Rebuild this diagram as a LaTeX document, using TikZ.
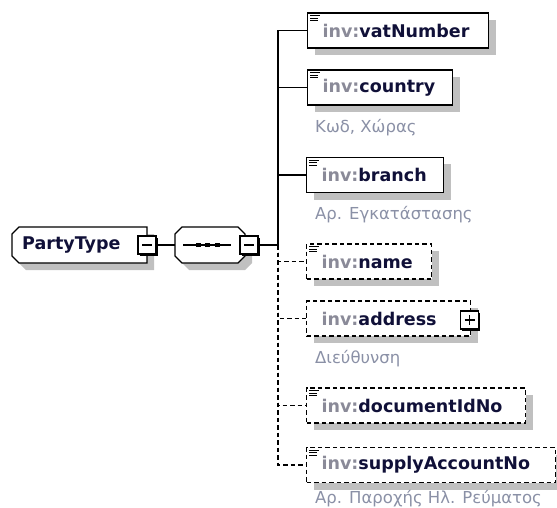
\documentclass[tikz,border=0pt]{standalone}
\usepackage{fontspec}
\setmainfont{DejaVu Sans}
\usetikzlibrary{shadows}
\definecolor{prefixgray}{RGB}{138,138,152}
\definecolor{namenavy}{RGB}{16,16,56}
\definecolor{notegray}{RGB}{138,144,166}
\definecolor{shadowgray}{RGB}{192,192,192}
\tikzset{
  link/.style={line width=1.2pt},
  optlink/.style={link, dash pattern=on 4.5pt off 3pt},
  elem/.style={draw, fill=white, line width=1.2pt, anchor=west, minimum height=35pt,
    inner xsep=15pt, inner ysep=0pt, align=left, text=namenavy,
    font=\fontsize{17.5}{18}\selectfont\bfseries,
    general shadow={fill=shadowgray, shadow xshift=7pt, shadow yshift=-7pt}},
  optelem/.style={elem, dash pattern=on 4.5pt off 3pt},
  note/.style={anchor=base west, inner sep=0pt, text=notegray, font=\fontsize{16.5}{16.5}\selectfont},
  togglebox/.style={draw, fill=white, line width=1.2pt, minimum size=18pt, inner sep=0pt,
    general shadow={fill=black, shadow xshift=1.6pt, shadow yshift=-1.6pt}},
  minusbox/.style={togglebox, path picture={
    \draw[link] ([xshift=4pt]path picture bounding box.west) -- ([xshift=-4pt]path picture bounding box.east);}},
  plusbox/.style={togglebox, path picture={
    \draw[link] ([xshift=4pt]path picture bounding box.west) -- ([xshift=-4pt]path picture bounding box.east);
    \draw[link] ([yshift=-4pt]path picture bounding box.north) -- ([yshift=4pt]path picture bounding box.south);}},
}
\newcommand{\invname}[1]{\textcolor{prefixgray}{inv:}#1}
\begin{document}
\begin{tikzpicture}[x=1pt, y=-1pt, line join=miter]
  \useasboundingbox (0,0) rectangle (557,508);
  % complex type
  \fill[shadowgray, shift={(7,7)}] (12,234)--(19,227)--(147,227)--(147,263)--(19,263)--(12,256)--cycle;
  \draw[link, fill=white] (12,234)--(19,227)--(147,227)--(147,263)--(19,263)--(12,256)--cycle;
  \node[anchor=west, inner sep=0pt, text=namenavy, font=\fontsize{17.5}{18}\selectfont\bfseries] (party) at (22,245) {PartyType};
  \node[minusbox] (partyminus) at (147,245) {};
  % sequence
  \fill[shadowgray, shift={(7,7)}] (175,234)--(182,227)--(238,227)--(245,234)--(245,256)--(238,263)--(182,263)--(175,256)--cycle;
  \draw[link, fill=white] (175,234)--(182,227)--(238,227)--(245,234)--(245,256)--(238,263)--(182,263)--(175,256)--cycle;
  \node[minimum width=70pt, minimum height=36pt, inner sep=0pt] (seq) at (210,245) {};
  \draw[link] (183,245) -- (231,245);
  \foreach \x in {198,207.5,217} \fill (\x-2.5,243) rectangle (\x+2.5,247);
  \node[minusbox] (seqminus) at (249,245) {};
  \coordinate (bus) at (278,245);
  \draw[link] (partyminus) -- (seq);
  \draw[link] (seqminus) -- (bus);
  % child elements
  \node[elem, text width=151pt] (vat) at (307,30.5) {\invname{vatNumber}};
  \node[elem, text width=115pt] (country) at (307,87.5) {\invname{country}};
  \node[elem, text width=107pt] (branch) at (306,175) {\invname{branch}};
  \node[optelem, text width=95pt] (name) at (306,261.5) {\invname{name}};
  \node[optelem, text width=134pt] (address) at (306,318.5) {\invname{address}};
  \node[plusbox] (addressplus) at (469.5,320) {};
  \node[optelem, text width=189pt] (docid) at (306,405.5) {\invname{documentIdNo}};
  \node[optelem, text width=219pt] (supply) at (306,465) {\invname{supplyAccountNo}};
  \foreach \n in {vat,country,branch,name,docid,supply} {
    \draw[line width=1pt] ([shift={(3pt,-3.5pt)}]\n.north west) -- +(10pt,0pt);
    \draw[line width=1pt] ([shift={(3pt,-6pt)}]\n.north west) -- +(8pt,0pt);
    \draw[line width=1pt] ([shift={(3pt,-8.5pt)}]\n.north west) -- +(8pt,0pt);
  }
  \foreach \n in {vat,country,branch} \draw[link] (bus) |- (\n);
  \foreach \n in {name,address,docid,supply} \draw[optlink] (bus) |- (\n);
  % annotations
  \node[note] (countrynote) at (315,133) {Κωδ, Χώρας};
  \node[note] (branchnote) at (315,219) {Αρ. Εγκατάστασης};
  \node[note] (addressnote) at (315,363) {Διεύθυνση};
  \node[note] (supplynote) at (315,503) {Αρ. Παροχής Ηλ. Ρεύματος};
\end{tikzpicture}
\end{document}
